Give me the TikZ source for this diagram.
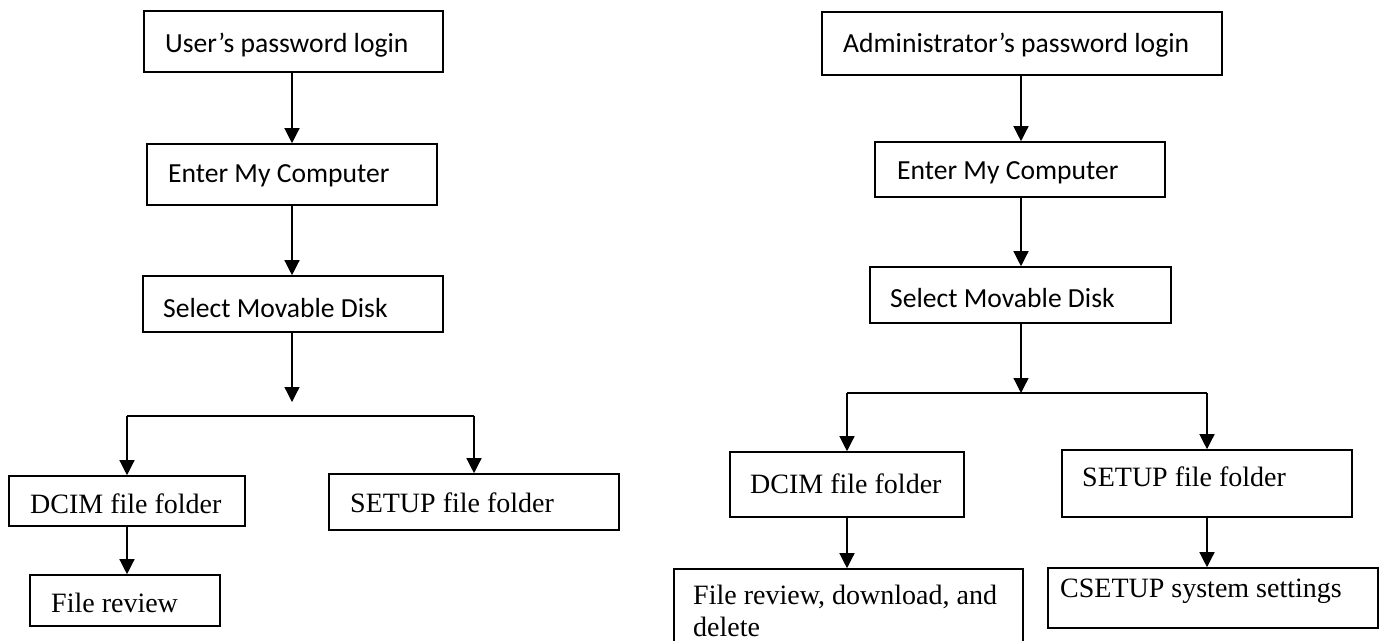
\documentclass[tikz,border=0pt]{standalone}
\usepackage{fontspec}
\setmainfont{Liberation Serif}
\newfontfamily\calfont{Carlito}
\usetikzlibrary{arrows.meta}
\begin{document}
\begin{tikzpicture}[x=1pt,y=-1pt,
  box/.style={draw, line width=1.6pt, inner sep=0pt},
  ct/.style={font=\calfont\fontsize{27.6}{32}\selectfont, anchor=base west, inner sep=0pt},
  tt/.style={font=\fontsize{28}{32}\selectfont, anchor=base west, inner sep=0pt},
  arr/.style={line width=1.3pt, -{Triangle[length=15pt,width=15pt]}},
  ln/.style={line width=1.3pt}]
\clip (0,0) rectangle (1383,640);
\fill[white] (0,0) rectangle (1383,640);
% ---------- left flow ----------
\node[box, minimum width=299pt, minimum height=61pt] (b1) at (293.5,41.5) {};
\node[box, minimum width=290pt, minimum height=61pt] (b2) at (292,174.5) {};
\node[box, minimum width=300pt, minimum height=56pt] (b3) at (293,304) {};
\node[box, minimum width=236pt, minimum height=50pt] (dL) at (127,501) {};
\node[box, minimum width=190pt, minimum height=51pt] (fL) at (125,600.5) {};
\node[box, minimum width=290pt, minimum height=56pt] (sL) at (474,502) {};
\node[ct] (b1t) at (165,52) {User’s password login};
\node[ct] (b2t) at (168,182) {Enter My Computer};
\node[ct] (b3t) at (163,317) {Select Movable Disk};
\node[tt] (dLt) at (30,513) {DCIM file folder};
\node[tt] (fLt) at (51,612) {File review};
\node[tt] (sLt) at (350,512) {SETUP file folder};
\coordinate (cl) at (292,0);
\coordinate (jl) at (292,402);
\coordinate (hl1) at (127,416);
\coordinate (hl2) at (474,416);
\draw[arr] (b1.south -| cl) -- (b2.north -| cl);
\draw[arr] (b2.south -| cl) -- (b3.north -| cl);
\draw[arr] (b3.south -| cl) -- (jl);
\draw[ln] (hl1) -- (hl2);
\draw[arr] (hl1) -- (dL.north);
\draw[arr] (hl2) -- (sL.north);
\draw[arr] (dL.south) -- (dL.south |- fL.north);
% ---------- right flow ----------
\node[box, minimum width=400pt, minimum height=63pt] (a1) at (1022,43.5) {};
\node[box, minimum width=290pt, minimum height=55pt] (a2) at (1020,169.5) {};
\node[box, minimum width=301pt, minimum height=56pt] (a3) at (1020.5,295) {};
\node[box, minimum width=234pt, minimum height=65pt] (dR) at (847,484.5) {};
\node[box, minimum width=290pt, minimum height=67pt] (sR) at (1207,483.5) {};
\node[box, minimum width=349pt, minimum height=101pt] (fR) at (848.5,619.5) {};
\node[box, minimum width=330pt, minimum height=60pt] (cR) at (1213,598) {};
\node[ct] (a1t) at (843,52) {Administrator’s password login};
\node[ct] (a2t) at (897,179) {Enter My Computer};
\node[ct] (a3t) at (890,307) {Select Movable Disk};
\node[tt] (dRt) at (750,493) {DCIM file folder};
\node[tt] (sRt) at (1082,486) {SETUP file folder};
\node[tt, anchor=north west, align=left] (fRt) at (693,585) {File review, download, and\\delete};
\node[tt] (cRt) at (1060,597) {CSETUP system settings};
\coordinate (cr) at (1021,0);
\coordinate (jr) at (1021,393);
\coordinate (hr1) at (847,393);
\coordinate (hr2) at (1207,393);
\draw[arr] (a1.south -| cr) -- (a2.north -| cr);
\draw[arr] (a2.south -| cr) -- (a3.north -| cr);
\draw[arr] (a3.south -| cr) -- (jr);
\draw[ln] (hr1) -- (hr2);
\draw[arr] (hr1) -- (dR.north);
\draw[arr] (hr2) -- (sR.north);
\draw[arr] (dR.south) -- (dR.south |- fR.north);
\draw[arr] (sR.south) -- (sR.south |- cR.north);
\end{tikzpicture}
\end{document}
